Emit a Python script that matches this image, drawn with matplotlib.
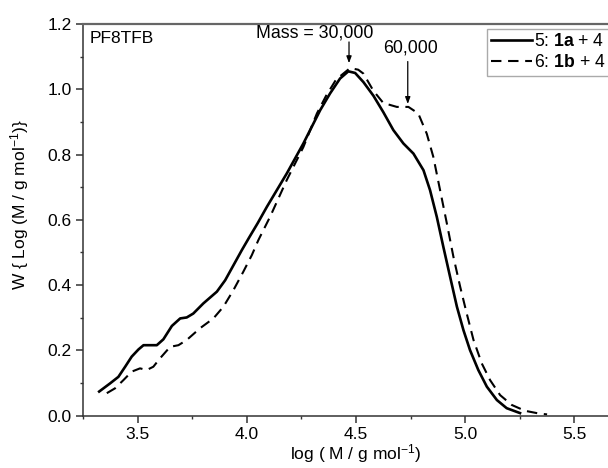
import matplotlib
matplotlib.use("Agg")
import matplotlib.pyplot as plt
from matplotlib.ticker import MultipleLocator

plt.rcParams['font.family'] = ['Liberation Sans', 'DejaVu Sans']
plt.rcParams['mathtext.fontset'] = 'custom'
plt.rcParams['mathtext.rm'] = 'Liberation Sans'
plt.rcParams['mathtext.it'] = 'Liberation Sans:italic'
plt.rcParams['mathtext.bf'] = 'Liberation Sans:bold'

# solid curve: 5 (1a + 4)
logm_5 = [3.324, 3.374, 3.412, 3.443, 3.473, 3.504, 3.527, 3.588, 3.618, 3.657,
          3.695, 3.725, 3.755, 3.801, 3.863, 3.901, 3.939, 3.977, 4.010, 4.050,
          4.092, 4.183, 4.259, 4.336, 4.381, 4.427, 4.465, 4.496, 4.534, 4.580,
          4.625, 4.671, 4.717, 4.763, 4.809, 4.839, 4.870, 4.900, 4.931, 4.962,
          4.992, 5.022, 5.060, 5.099, 5.145, 5.190, 5.251]
w_5 = [0.074, 0.099, 0.119, 0.150, 0.181, 0.203, 0.216, 0.216, 0.234, 0.275,
       0.298, 0.301, 0.313, 0.344, 0.380, 0.415, 0.461, 0.507, 0.545, 0.590,
       0.640, 0.742, 0.834, 0.936, 0.987, 1.033, 1.055, 1.050, 1.022, 0.980,
       0.930, 0.875, 0.834, 0.803, 0.752, 0.691, 0.609, 0.517, 0.425, 0.334,
       0.262, 0.201, 0.140, 0.089, 0.048, 0.023, 0.008]

# dashed curve: 6 (1b + 4)
logm_6 = [3.359, 3.397, 3.435, 3.473, 3.511, 3.542, 3.572, 3.603, 3.649, 3.687,
          3.725, 3.786, 3.847, 3.893, 3.939, 3.984, 4.023, 4.053, 4.107, 4.183,
          4.259, 4.321, 4.363, 4.409, 4.473, 4.510, 4.534, 4.580, 4.625, 4.687,
          4.740, 4.785, 4.824, 4.854, 4.885, 4.916, 4.946, 4.977, 5.007, 5.038,
          5.076, 5.114, 5.160, 5.213, 5.274, 5.343, 5.375]
w_6 = [0.069, 0.084, 0.109, 0.135, 0.145, 0.140, 0.150, 0.176, 0.211, 0.216,
       0.232, 0.268, 0.298, 0.334, 0.385, 0.441, 0.492, 0.538, 0.610, 0.722,
       0.823, 0.926, 0.980, 1.030, 1.065, 1.060, 1.048, 0.995, 0.958, 0.946,
       0.946, 0.926, 0.864, 0.793, 0.691, 0.589, 0.487, 0.395, 0.313, 0.232,
       0.160, 0.109, 0.063, 0.033, 0.015, 0.006, 0.004]

fig = plt.figure(figsize=(6.08, 4.68), dpi=100)
ax = fig.add_axes([83 / 608, 52.3 / 468, 546 / 608, 391.7 / 468])

ax.plot(logm_5, w_5, color='black', lw=1.9, label='5: $\\mathbf{1a}$ + 4')
ax.plot(logm_6, w_6, color='black', lw=1.5, dashes=(5, 3.2),
        label='6: $\\mathbf{1b}$ + 4')

ax.set_xlim(3.25, 5.75)
ax.set_ylim(0.0, 1.2)
ax.xaxis.set_major_locator(MultipleLocator(0.5))
ax.xaxis.set_minor_locator(MultipleLocator(0.25))
ax.yaxis.set_major_locator(MultipleLocator(0.2))
ax.yaxis.set_minor_locator(MultipleLocator(0.1))
ax.tick_params(which='major', direction='out', length=5, width=1.1,
               labelsize=12.5, pad=3, color='#333333')
ax.tick_params(which='minor', direction='out', length=2.5, width=1.0, color='#333333')

ax.spines['right'].set_visible(False)
for s in ['left', 'bottom']:
    ax.spines[s].set_linewidth(1.1)
    ax.spines[s].set_color('#333333')
ax.spines['top'].set_linewidth(1.6)
ax.spines['top'].set_color('#666666')

ax.set_xlabel('log ( M / g mol$^{\\mathregular{-1}}$)', fontsize=12.5, labelpad=0)
ax.set_ylabel('W { Log (M / g mol$^{\\mathregular{-1}}$)}', fontsize=12.5)
ax.yaxis.set_label_coords(-0.096, 0.54)

ax.text(3.279, 1.157, 'PF8TFB', fontsize=12.5, ha='left', va='center')
ax.text(4.311, 1.171, 'Mass = 30,000', fontsize=12.8, ha='center', va='center')
ax.annotate('', xy=(4.468, 1.080), xytext=(4.468, 1.145),
            arrowprops=dict(arrowstyle='-|>,head_length=0.4,head_width=0.15',
                            color='black', lw=0.9, shrinkA=0, shrinkB=0))
ax.text(4.748, 1.125, '60,000', fontsize=12.8, ha='center', va='center')
ax.annotate('', xy=(4.737, 0.955), xytext=(4.737, 1.085),
            arrowprops=dict(arrowstyle='-|>,head_length=0.4,head_width=0.15',
                            color='black', lw=0.9, shrinkA=0, shrinkB=0))

leg = ax.legend(loc='upper left', bbox_to_anchor=(5.100, 1.186),
                bbox_transform=ax.transData, borderaxespad=0, fontsize=12.7,
                handlelength=2.3, handletextpad=0.1, labelspacing=0.25,
                borderpad=0.25, fancybox=False, framealpha=1)
leg.get_frame().set_edgecolor('#aaaaaa')
leg.get_frame().set_linewidth(1.0)

fig.savefig('out.png', dpi=100)
